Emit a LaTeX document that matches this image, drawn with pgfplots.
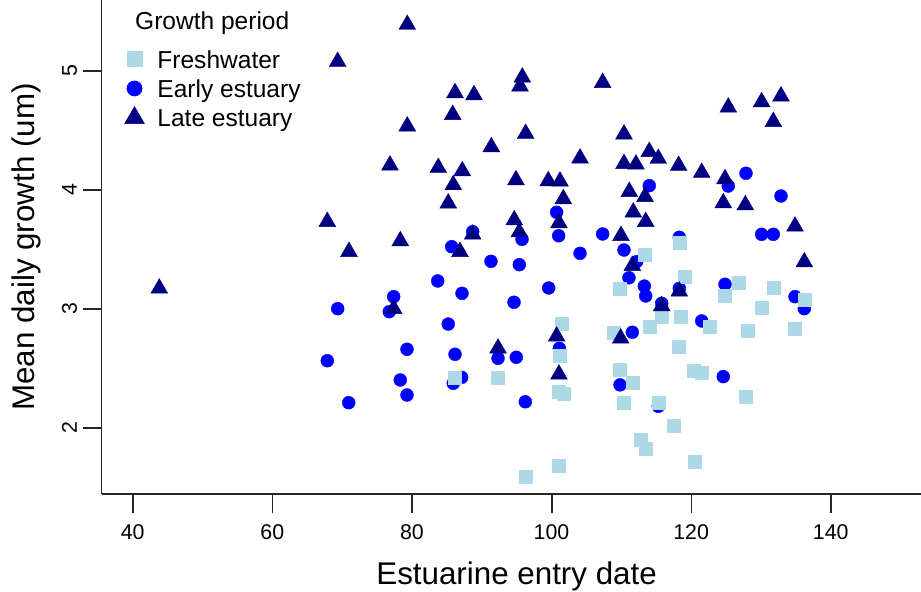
\documentclass[border=0pt]{standalone}
\usepackage{fontspec}
\setmainfont{Liberation Sans}
\usepackage{pgfplots}
\pgfplotsset{compat=1.18}
\definecolor{fresh}{HTML}{ADD8E6}
\definecolor{early}{HTML}{0000FF}
\definecolor{late}{HTML}{000080}
\definecolor{axc}{HTML}{262626}
\begin{document}
\begin{tikzpicture}
\path[use as bounding box] (-76.275pt,-73.5pt) rectangle (614.475pt,370.5pt);
\begin{axis}[
  at={(0pt,0pt)}, anchor=south west,
  scale only axis, width=614.475pt, height=370.5pt,
  xmin=35.56, xmax=152.94, ymin=1.443, ymax=5.594,
  axis x line*=bottom, axis y line*=left,
  axis line style={line width=1.2pt, draw=axc},
  tick align=outside, major tick length=14.25pt,
  major tick style={draw=none},
  xtick={40,60,...,140}, ytick={2,3,4,5},
  /pgf/number format/assume math mode=true,
  ticklabel style={font=\fontsize{16}{19}\selectfont},
  xticklabel style={anchor=north, inner sep=0pt},
  xticklabel shift=8.8pt,
  yticklabel style={rotate=90, anchor=base, inner sep=0pt},
  yticklabel shift=4.3pt,
  xlabel={Estuarine entry date},
  ylabel={Mean daily growth (um)},
  label style={font=\fontsize{23.5}{28}\selectfont, inner sep=0pt},
  xlabel style={at={(axis description cs:0.5064,-0.1842)}, anchor=base},
  ylabel style={at={(axis description cs:-0.0815,0.5)}, anchor=base, rotate=0},
  clip=false,
  legend style={at={(axis description cs:0.0267,0.9109)}, anchor=north west,
    draw=none, fill=none, inner sep=0pt, row sep=0pt, column sep=9.2pt,
    font=\fontsize{18.4}{22}\selectfont,
    nodes={inner sep=0pt, text height=17.8pt, text depth=4.3pt}},
  legend cell align=left,
  legend image code/.code={\path[draw=none, fill=none] (-8pt,-4pt) rectangle (8pt,4pt);
    \draw[#1] plot coordinates {(0pt,0pt)};},
]
% Early estuary (circles)
\addplot[only marks, forget plot, mark=*, mark size=4.85pt, mark options={fill=early, draw=early, line width=0.3pt}] coordinates {
(114.01,4.034) (127.87,4.138) (125.33,4.031) (132.88,3.947) (130.11,3.625)
(131.78,3.625) (124.86,3.205) (134.89,3.101) (136.22,3.0) (121.52,2.897)
(118.31,3.6) (124.61,2.429) (100.74,3.81) (95.78,3.583) (101.03,3.613)
(88.71,3.647) (77.39,3.101) (76.76,2.975) (69.37,3.0) (79.3,2.659)
(67.88,2.563) (78.34,2.401) (79.3,2.275) (70.95,2.21) (85.7,3.521)
(91.33,3.398) (95.39,3.370) (104.09,3.465) (107.33,3.628) (110.39,3.493)
(112.2,3.395) (111.1,3.26) (113.3,3.19) (113.5,3.107) (115.79,3.045)
(118.31,3.171) (111.58,2.802) (101.12,2.667) (92.34,2.583) (94.96,2.592)
(96.25,2.218) (86.18,2.617) (85.93,2.373) (87.13,2.423) (85.21,2.871)
(83.7,3.233) (87.18,3.129) (94.63,3.054) (99.6,3.174) (109.82,2.36)
(115.3,2.18)
};
% Freshwater (squares)
\addplot[only marks, forget plot, mark=square*, mark size=4.85pt, mark options={fill=fresh, draw=fresh, line width=0.3pt}] coordinates {
(124.86,3.109) (126.82,3.218) (131.78,3.176) (136.22,3.073) (130.11,3.012)
(134.89,2.835) (128.1,2.813) (122.71,2.849) (119.14,3.269) (118.31,3.555)
(118.51,2.933) (118.27,2.681) (120.32,2.479) (121.52,2.465) (127.77,2.261)
(117.55,2.014) (113.3,3.451) (109.72,3.171) (115.79,2.933) (114.01,2.849)
(108.95,2.798) (101.5,2.877) (101.22,2.605) (101.03,2.303) (101.69,2.289)
(92.34,2.423) (86.18,2.423) (110.39,2.21) (111.58,2.38) (115.3,2.21)
(112.78,1.897) (113.5,1.827) (120.46,1.714) (101.07,1.681) (96.3,1.588)
(109.82,2.485)
};
% Late estuary (triangles)
\addplot[only marks, forget plot, mark=triangle*, mark size=7.3pt, mark options={fill=late, draw=late, line width=0.3pt}] coordinates {
(79.34,5.387) (69.37,5.076) (79.34,4.533) (76.86,4.205) (95.82,4.944)
(95.49,4.869) (107.33,4.899) (86.18,4.813) (88.9,4.796) (85.85,4.630)
(96.3,4.471) (91.38,4.359) (110.39,4.466) (104.09,4.264) (114.01,4.319)
(115.3,4.261) (110.39,4.218) (112.1,4.213) (118.22,4.202) (121.52,4.143)
(124.86,4.09) (83.78,4.185) (87.22,4.157) (85.93,4.04) (94.91,4.081)
(99.54,4.073) (101.22,4.07) (101.7,3.922) (111.15,3.983) (113.4,3.941)
(85.21,3.886) (125.33,4.692) (130.11,4.737) (132.88,4.785) (131.78,4.571)
(124.61,3.888) (127.77,3.871) (134.89,3.692) (136.22,3.392) (111.72,3.81)
(113.5,3.731) (101.07,3.72) (94.67,3.745) (95.39,3.644) (88.71,3.625)
(67.88,3.731) (70.99,3.479) (78.34,3.569) (43.81,3.171) (77.39,3.0)
(86.89,3.479) (109.96,3.613) (111.58,3.361) (115.79,3.023) (118.31,3.146)
(109.91,2.751) (100.74,2.768) (101.07,2.449) (92.34,2.667)
};
\addlegendimage{only marks, mark=square*, mark size=5.7pt, mark options={fill=fresh, draw=fresh}}
\addlegendentry{Freshwater}
\addlegendimage{only marks, mark=*, mark size=5.7pt, mark options={fill=early, draw=early}}
\addlegendentry{Early estuary}
\addlegendimage{only marks, mark=triangle*, mark size=8.5pt, mark options={fill=late, draw=late}}
\addlegendentry{Late estuary}
\node[anchor=base west, inner sep=0pt, font=\fontsize{18.4}{22}\selectfont] at (axis description cs:0.0406,0.9393) {Growth period};
\end{axis}
% axis tick marks
\draw[axc, line width=1.3pt]
  (23.43pt,0pt) -- (23.43pt,-14.25pt)
  (128.19pt,0pt) -- (128.19pt,-14.25pt)
  (232.94pt,0pt) -- (232.94pt,-14.25pt)
  (337.65pt,0pt) -- (337.65pt,-14.25pt)
  (442.35pt,0pt) -- (442.35pt,-14.25pt)
  (547.06pt,0pt) -- (547.06pt,-14.25pt)
  (0pt,49.73pt) -- (-14.25pt,49.73pt)
  (0pt,138.98pt) -- (-14.25pt,138.98pt)
  (0pt,228.23pt) -- (-14.25pt,228.23pt)
  (0pt,317.48pt) -- (-14.25pt,317.48pt);
\end{tikzpicture}
\end{document}
